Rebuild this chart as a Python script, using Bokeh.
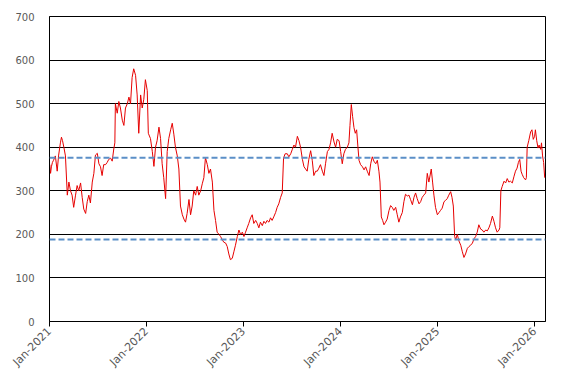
import math
from datetime import datetime
import pandas as pd
from bokeh.plotting import figure
from bokeh.models import Range1d, Span, DatetimeTickFormatter, FixedTicker, SingleIntervalTicker
from bokeh.embed import file_html
from bokeh.resources import INLINE

dates = [
    "2021-01-02","2021-01-05","2021-01-08","2021-01-12","2021-01-16","2021-01-20","2021-01-23","2021-01-30",
    "2021-02-04","2021-02-11","2021-02-15","2021-02-19","2021-02-24","2021-03-02","2021-03-09","2021-03-15",
    "2021-03-21","2021-03-27","2021-04-02","2021-04-09","2021-04-15","2021-04-21","2021-04-28","2021-05-04",
    "2021-05-10","2021-05-17","2021-05-23","2021-05-29","2021-06-04","2021-06-11","2021-06-17","2021-06-23",
    "2021-06-30","2021-07-06","2021-07-12","2021-07-18","2021-07-24","2021-07-31","2021-08-06","2021-08-12",
    "2021-08-19","2021-08-25","2021-08-31","2021-09-04","2021-09-06","2021-09-13","2021-09-19","2021-09-25",
    "2021-10-02","2021-10-08","2021-10-14","2021-10-21","2021-10-27","2021-11-02","2021-11-08","2021-11-14",
    "2021-11-21","2021-11-27","2021-12-03","2021-12-10","2021-12-16","2021-12-22","2021-12-28","2022-01-04",
    "2022-01-08","2022-01-16","2022-01-23","2022-01-29","2022-02-04","2022-02-10","2022-02-17","2022-02-23",
    "2022-03-01","2022-03-07","2022-03-14","2022-03-20","2022-03-26","2022-04-02","2022-04-08","2022-04-14",
    "2022-04-20","2022-04-27","2022-05-03","2022-05-09","2022-05-16","2022-05-22","2022-05-28","2022-06-03",
    "2022-06-10","2022-06-16","2022-06-22","2022-06-28","2022-07-05","2022-07-11","2022-07-17","2022-07-24",
    "2022-07-30","2022-08-05","2022-08-11","2022-08-18","2022-08-24","2022-08-30","2022-09-06","2022-09-12",
    "2022-09-18","2022-09-24","2022-10-01","2022-10-07","2022-10-13","2022-10-19","2022-10-26","2022-11-01",
    "2022-11-07","2022-11-13","2022-11-20","2022-11-26","2022-12-02","2022-12-09","2022-12-15","2022-12-21",
    "2022-12-28","2023-01-03","2023-01-09","2023-01-15","2023-01-21","2023-01-28","2023-02-03","2023-02-09",
    "2023-02-16","2023-02-22","2023-02-28","2023-03-06","2023-03-13","2023-03-19","2023-03-25","2023-03-31",
    "2023-04-07","2023-04-13","2023-04-19","2023-04-25","2023-05-02","2023-05-08","2023-05-14","2023-05-21",
    "2023-05-27","2023-06-01","2023-06-07","2023-06-15","2023-06-21","2023-06-28","2023-07-04","2023-07-10",
    "2023-07-16","2023-07-23","2023-07-29","2023-08-04","2023-08-11","2023-08-17","2023-08-23","2023-08-29",
    "2023-09-04","2023-09-11","2023-09-17","2023-09-23","2023-09-30","2023-10-06","2023-10-12","2023-10-18",
    "2023-10-25","2023-10-31","2023-11-06","2023-11-13","2023-11-19","2023-11-25","2023-12-01","2023-12-08",
    "2023-12-14","2023-12-20","2023-12-27","2024-01-02","2024-01-08","2024-01-14","2024-01-20","2024-01-27",
    "2024-02-02","2024-02-06","2024-02-11","2024-02-16","2024-02-21","2024-02-26","2024-03-02","2024-03-07",
    "2024-03-11","2024-03-17","2024-03-24","2024-03-30","2024-04-05","2024-04-11","2024-04-18","2024-04-24",
    "2024-04-30","2024-05-06","2024-05-13","2024-05-19","2024-05-25","2024-05-29","2024-06-03","2024-06-08",
    "2024-06-13","2024-06-19","2024-06-25","2024-07-02","2024-07-08","2024-07-14","2024-07-20","2024-07-27",
    "2024-08-02","2024-08-08","2024-08-14","2024-08-21","2024-08-27","2024-09-02","2024-09-09","2024-09-15",
    "2024-09-21","2024-09-28","2024-10-04","2024-10-10","2024-10-16","2024-10-23","2024-10-29","2024-11-04",
    "2024-11-10","2024-11-17","2024-11-23","2024-11-29","2024-12-08","2024-12-13","2024-12-18","2024-12-24",
    "2024-12-31","2025-01-06","2025-01-12","2025-01-18","2025-01-25","2025-01-31","2025-02-06","2025-02-12",
    "2025-02-19","2025-02-24","2025-03-01","2025-03-06","2025-03-10","2025-03-16","2025-03-22","2025-03-29",
    "2025-04-04","2025-04-10","2025-04-16","2025-04-23","2025-04-29","2025-05-05","2025-05-12","2025-05-18",
    "2025-05-24","2025-05-30","2025-06-05","2025-06-12","2025-06-18","2025-06-24","2025-07-01","2025-07-07",
    "2025-07-13","2025-07-19","2025-07-26","2025-08-01","2025-08-07","2025-08-13","2025-08-20","2025-08-23",
    "2025-08-27","2025-09-01","2025-09-08","2025-09-14","2025-09-20","2025-09-26","2025-10-02","2025-10-09",
    "2025-10-15","2025-10-21","2025-10-27","2025-11-01","2025-11-06","2025-11-11","2025-11-15","2025-11-21",
    "2025-11-28","2025-12-01","2025-12-04","2025-12-10","2025-12-17","2025-12-22","2025-12-27","2026-01-01",
    "2026-01-04","2026-01-09","2026-01-14","2026-01-18","2026-01-24","2026-01-27","2026-01-31","2026-02-04",
    "2026-02-08",
]

values = [
    360,340,355,365,370,375,380,345,
    380,410,423,415,400,380,290,320,
    300,290,262,290,312,300,318,285,
    258,248,275,290,272,320,340,382,
    386,362,355,335,360,360,365,372,
    375,368,396,410,500,478,505,490,
    462,450,490,500,515,500,560,580,
    565,520,432,520,490,510,555,530,
    432,420,390,356,400,415,446,420,
    362,330,282,390,420,440,455,430,
    400,380,350,265,245,235,228,248,
    280,245,265,300,290,310,290,300,
    316,330,376,360,340,350,320,255,
    232,205,200,195,188,182,180,172,
    155,142,145,160,175,195,210,200,
    205,195,205,215,225,238,245,225,
    232,225,215,228,220,230,225,232,
    228,238,232,240,250,262,270,285,
    295,375,385,385,378,385,395,405,
    400,425,415,400,372,355,350,345,
    372,392,370,335,345,345,352,360,
    345,335,362,390,395,410,432,412,
    400,418,415,390,362,385,395,400,
    410,450,498,470,445,432,440,400,
    370,360,355,348,355,345,335,362,
    378,368,362,370,345,320,240,232,
    222,228,235,255,266,262,255,262,
    245,228,240,250,275,292,288,290,
    280,268,285,295,282,270,275,285,
    290,295,340,320,350,320,290,262,
    245,250,255,260,275,278,282,290,
    298,285,265,195,188,200,185,175,
    160,147,155,168,172,175,180,190,
    195,205,222,212,210,205,210,208,
    215,225,242,230,215,205,210,215,
    300,310,322,318,328,320,322,318,
    332,345,352,365,372,345,338,330,
    325,330,400,415,435,440,418,425,
    440,415,398,405,395,410,380,365,
    330,
]

upper_band = 376
lower_band = 188
year_ticks = ["2021-01-01","2022-01-01","2023-01-01","2024-01-01","2025-01-01","2026-01-01"]

x = pd.to_datetime(dates)

p = figure(width=564, height=377, x_axis_type="datetime", output_backend="svg",
           toolbar_location=None,
           x_range=Range1d(datetime(2021, 1, 1), datetime(2026, 2, 11)),
           y_range=Range1d(0, 700),
           min_border_left=49, min_border_right=19, min_border_top=16, min_border_bottom=56)

p.line(x, values, line_color="#E60000", line_width=1)

for v in (upper_band, lower_band):
    p.add_layout(Span(location=v, dimension="width", line_color="#5B8FC7",
                      line_width=2, line_dash="6 3"))

tick_ms = [pd.Timestamp(t).value / 1e6 for t in year_ticks]
p.xaxis.ticker = FixedTicker(ticks=tick_ms)
p.xaxis.formatter = DatetimeTickFormatter(days="%b-%Y", months="%b-%Y", years="%b-%Y")
p.xaxis.major_label_orientation = math.pi / 4
p.xaxis.major_label_standoff = 3
p.yaxis.ticker = SingleIntervalTicker(interval=100)

for ax in (p.xaxis, p.yaxis):
    ax.axis_line_color = "black"
    ax.axis_line_width = 1
    ax.major_label_text_color = "#595959"
    ax.major_label_text_font = "DejaVu Sans"
    ax.minor_tick_line_color = None
p.xaxis.major_label_text_font_size = "11px"
p.yaxis.major_label_text_font_size = "10px"
p.xaxis.major_tick_line_color = "black"
p.xaxis.major_tick_out = 5
p.xaxis.major_tick_in = 0
p.yaxis.major_tick_line_color = None
p.yaxis.major_label_standoff = 9

p.xgrid.grid_line_color = None
p.ygrid.grid_line_color = "black"
p.ygrid.grid_line_width = 1
p.outline_line_color = "black"
p.outline_line_width = 1
p.background_fill_color = "white"
p.border_fill_color = "white"

open("out.html", "w").write(file_html(p, INLINE))
